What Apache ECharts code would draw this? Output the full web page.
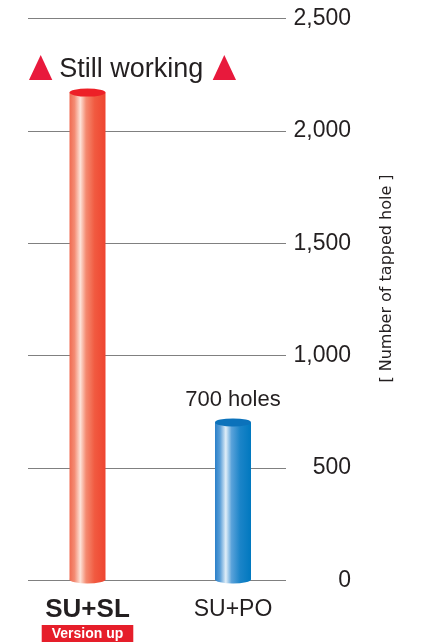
<!DOCTYPE html>
<html>
<head>
  <meta charset="UTF-8">
  <script src="https://cdn.jsdelivr.net/npm/echarts@6.0.0/dist/echarts.min.js"></script>
  <style>
    body { margin: 0; padding: 0; background: #ffffff; }
    #chart { width: 427px; height: 642px; }
  </style>
</head>
<body>
  <div id="chart"></div>
  <script>
    // data
    const categories = ['SU+SL', 'SU+PO'];
    const tappedHoles = [2170, 700];
    const valueLabels = ['', '700 holes'];
    const yTicks = [0, 500, 1000, 1500, 2000, 2500];

    const FONT = "'Liberation Sans', Arial, sans-serif";
    const TEXT = '#231f20';

    // cylinder look per bar
    const cylinders = [
      {
        top: '#ed2027',
        stops: [
          [0, '#f06a50'], [0.14, '#f48c74'], [0.3, '#fde3d8'],
          [0.46, '#f48a70'], [0.7, '#f15a40'], [1, '#ee4530']
        ]
      },
      {
        top: '#0b72bb',
        stops: [
          [0, '#2a7fc9'], [0.14, '#5a9fd8'], [0.3, '#e0eef8'],
          [0.46, '#5aa2da'], [0.7, '#1b84c8'], [1, '#0078bf']
        ]
      }
    ];

    const BAR_W = 36;
    const RY = 4;

    function gradient(stops) {
      return {
        type: 'linear', x: 0, y: 0, x2: 1, y2: 0,
        colorStops: stops.map(s => ({ offset: s[0], color: s[1] }))
      };
    }

    function renderCylinder(params, api) {
      const idx = api.value(0);
      const top = api.coord([idx, api.value(1)]);
      const base = api.coord([idx, 0]);
      const cx = top[0];
      const look = cylinders[idx];
      const fill = gradient(look.stops);
      const children = [
        {
          type: 'circle',
          shape: { cx: 0, cy: 0, r: BAR_W / 2 },
          x: cx, y: base[1], scaleY: (RY * 2) / BAR_W,
          style: { fill: fill }
        },
        {
          type: 'rect',
          shape: { x: cx - BAR_W / 2, y: top[1], width: BAR_W, height: base[1] - top[1] },
          style: { fill: fill }
        },
        {
          type: 'circle',
          shape: { cx: 0, cy: 0, r: BAR_W / 2 },
          x: cx, y: top[1], scaleY: (RY * 2) / BAR_W,
          style: { fill: look.top }
        }
      ];
      const lbl = valueLabels[idx];
      if (lbl) {
        children.push({
          type: 'text',
          x: cx, y: top[1] - 22,
          style: {
            text: lbl, font: '22px ' + FONT, fill: TEXT,
            textAlign: 'center', textVerticalAlign: 'middle'
          }
        });
      }
      return { type: 'group', children: children };
    }

    const chart = echarts.init(document.getElementById('chart'));

    const option = {
      animation: false,
      grid: [
        { left: 28, right: 141, top: 18.5, bottom: 61.5 },
        { left: 14.75, width: 291, top: 18.5, bottom: 61.5 }
      ],
      xAxis: [
        { gridIndex: 0, type: 'value', show: false },
        {
          gridIndex: 1,
          type: 'category',
          data: categories,
          axisLine: { show: false },
          axisTick: { show: false },
          axisLabel: {
            margin: 15,
            interval: 0,
            formatter: function (v, i) {
              return i === 0 ? '{a|' + v + '}\n{v|Version up}' : '{p|' + v + '}';
            },
            rich: {
              a: { fontFamily: FONT, fontSize: 26, fontWeight: 'bold', color: TEXT, lineHeight: 31 },
              p: { fontFamily: FONT, fontSize: 23, color: TEXT, lineHeight: 31 },
              v: {
                fontFamily: FONT, fontSize: 14, fontWeight: 'bold', color: '#ffffff',
                backgroundColor: '#e61e2a',
                lineHeight: 16, height: 16, padding: [1, 10, 0, 10]
              }
            }
          }
        }
      ],
      yAxis: [
        {
          gridIndex: 0,
          type: 'value',
          position: 'right',
          min: yTicks[0],
          max: yTicks[yTicks.length - 1],
          interval: yTicks[1] - yTicks[0],
          axisLine: { show: false },
          axisTick: { show: false },
          splitLine: { lineStyle: { color: '#808080', width: 1.2 } },
          axisLabel: {
            margin: 65,
            align: 'right',
            fontFamily: FONT,
            fontSize: 23,
            color: TEXT,
            formatter: v => v.toLocaleString('en-US')
          }
        },
        {
          gridIndex: 1,
          type: 'value',
          min: yTicks[0],
          max: yTicks[yTicks.length - 1],
          show: false
        }
      ],
      series: [{
        type: 'custom',
        xAxisIndex: 1,
        yAxisIndex: 1,
        data: tappedHoles.map((v, i) => [i, v]),
        renderItem: renderCylinder
      }],
      graphic: [
        {
          type: 'polygon',
          shape: { points: [[29, 80], [40.7, 55], [52.3, 80]] },
          style: { fill: '#e8193c' }
        },
        {
          type: 'text',
          x: 59.3, y: 70,
          style: {
            text: 'Still working', font: '27px ' + FONT, fill: TEXT,
            textAlign: 'left', textVerticalAlign: 'middle'
          }
        },
        {
          type: 'polygon',
          shape: { points: [[212.7, 80], [224.3, 55], [236, 80]] },
          style: { fill: '#e8193c' }
        },
        {
          type: 'text',
          x: 387, y: 278.5,
          rotation: Math.PI / 2,
          style: {
            text: '[ Number of tapped hole ]', font: '16px "DejaVu Sans", sans-serif', fill: TEXT,
            textAlign: 'center', textVerticalAlign: 'middle'
          }
        }
      ]
    };

    chart.setOption(option);
  </script>
</body>
</html>
